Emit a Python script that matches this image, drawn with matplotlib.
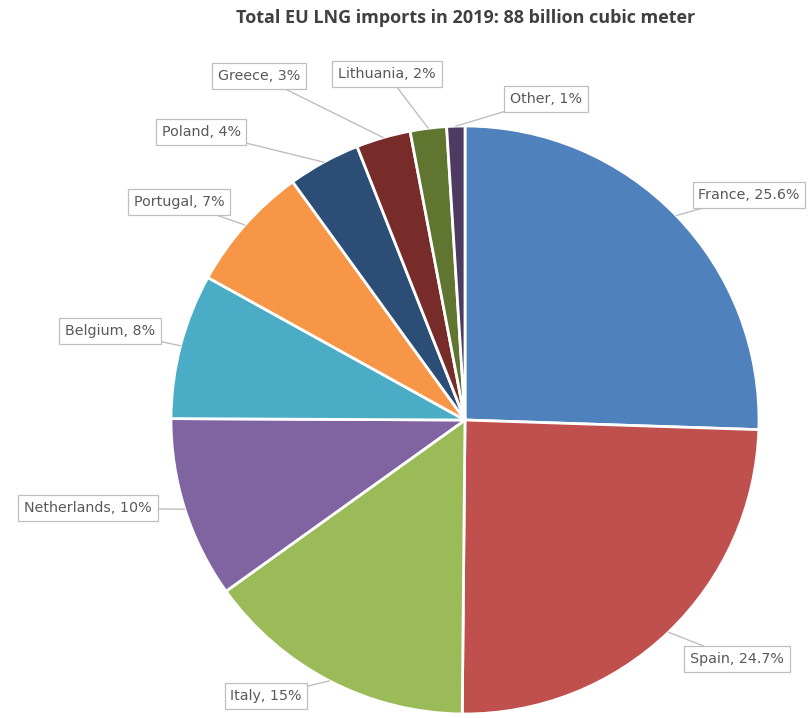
import numpy as np
import matplotlib.pyplot as plt

# data
countries = ['France', 'Spain', 'Italy', 'Netherlands', 'Belgium', 'Portugal',
             'Poland', 'Greece', 'Lithuania', 'Other']
shares = [25.6, 24.7, 15, 10, 8, 7, 4, 3, 2, 1]
share_txt = ['25.6%', '24.7%', '15%', '10%', '8%', '7%', '4%', '3%', '2%', '1%']
colors = ['#4F81BD', '#C0504D', '#9BBB59', '#8064A2', '#4BACC6', '#F79646',
          '#2C4D75', '#772C2A', '#5F7530', '#4D3B62']

# label box centres in image pixels (x, y from top)
label_xy = [(749, 195), (737, 659), (266, 696), (88, 508), (110, 331), (179, 202),
            (201, 132), (259, 76), (387, 74), (546, 99)]

W, H = 810, 718
cx, cy, r = 465, H - 420, 294

fig = plt.figure(figsize=(W / 100, H / 100), dpi=100)
ax = fig.add_axes([0, 0, 1, 1])

wedges, _ = ax.pie(shares, colors=colors, startangle=90, counterclock=False,
                   center=(cx, cy), radius=r, normalize=True,
                   wedgeprops=dict(edgecolor='white', linewidth=2))
ax.set_xlim(0, W)
ax.set_ylim(0, H)
ax.set_aspect('equal')
ax.axis('off')

for w, name, txt, (lx, ly) in zip(wedges, countries, share_txt, label_xy):
    ang = np.deg2rad((w.theta1 + w.theta2) / 2)
    px = cx + r * np.cos(ang)
    py = cy + r * np.sin(ang)
    ax.annotate(name + ', ' + txt, xy=(px, py), xytext=(lx, H - ly),
                ha='center', va='center', fontsize=10.3, color='#595959',
                bbox=dict(boxstyle='square,pad=0.4', fc='white', ec='#bfbfbf', lw=0.9),
                arrowprops=dict(arrowstyle='-', color='#bfbfbf', lw=1,
                                shrinkA=0, shrinkB=0))

fig.text(466 / W, 1 - 18 / H, 'Total EU LNG imports in 2019: 88 billion cubic meter',
         ha='center', va='center', fontsize=13, fontweight='bold',
         family='Open Sans', color='#404040')

fig.savefig('out.png', dpi=100)
